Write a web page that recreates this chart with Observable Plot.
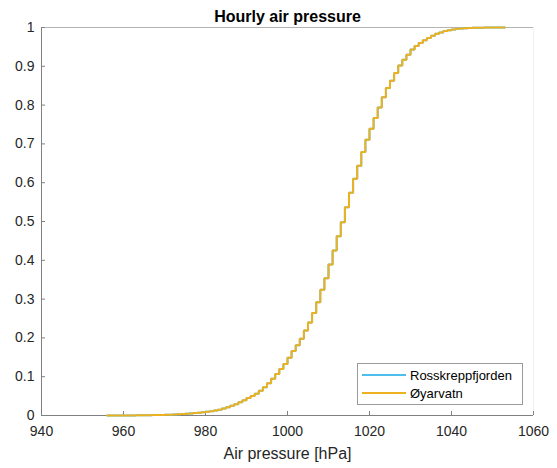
<!DOCTYPE html>
<html>
<head>
<meta charset="utf-8">
<script src="https://cdn.jsdelivr.net/npm/d3@7"></script>
<script src="https://cdn.jsdelivr.net/npm/@observablehq/plot@0.6"></script>
<style>
  html, body { margin: 0; padding: 0; background: #ffffff; }
  #chart { width: 557px; height: 468px; }
</style>
</head>
<body>
<div id="chart"></div>
<script>
// ---- data ----
const chartTitle = "Hourly air pressure";
const xLabel = "Air pressure [hPa]";
const seriesNames = ["Rosskreppfjorden", "Øyarvatn"];
const seriesColors = ["#4DBEEE", "#EDB120"];

const xTicks = [940, 960, 980, 1000, 1020, 1040, 1060];
const yTicks = [0, 0.1, 0.2, 0.3, 0.4, 0.5, 0.6, 0.7, 0.8, 0.9, 1];
const yTickLabels = ["0", "0.1", "0.2", "0.3", "0.4", "0.5", "0.6", "0.7", "0.8", "0.9", "1"];

// pressure (hPa) at each step of the empirical CDF
const pressure = [
  956, 957, 958, 959, 960, 961, 962, 963, 964, 965,
  966, 967, 968, 969, 970, 971, 972, 973, 974, 975,
  976, 977, 978, 979, 980, 981, 982, 983, 984, 985,
  986, 987, 988, 989, 990, 991, 992, 993, 994, 995,
  996, 997, 998, 999, 1000, 1001, 1002, 1003, 1004, 1005,
  1006, 1007, 1008, 1009, 1010, 1011, 1012, 1013, 1014, 1015,
  1016, 1017, 1018, 1019, 1020, 1021, 1022, 1023, 1024, 1025,
  1026, 1027, 1028, 1029, 1030, 1031, 1032, 1033, 1034, 1035,
  1036, 1037, 1038, 1039, 1040, 1041, 1042, 1043, 1044, 1045,
  1046, 1047, 1048, 1049, 1050, 1051, 1052, 1053
];

// cumulative fraction, Rosskreppfjorden (hidden beneath Øyarvatn in the picture)
const cdfRosskreppfjorden = [
  0, 0.0001, 0.0001, 0.0002, 0.0002, 0.0003, 0.0003, 0.0004, 0.0005, 0.0006,
  0.0008, 0.0010, 0.0012, 0.0015, 0.0018, 0.0022, 0.0027, 0.0032, 0.0038, 0.0045,
  0.0053, 0.0062, 0.0072, 0.0083, 0.0095, 0.011, 0.013, 0.015, 0.018, 0.021,
  0.025, 0.029, 0.034, 0.039, 0.045, 0.050, 0.056, 0.064, 0.073, 0.083,
  0.095, 0.107, 0.120, 0.133, 0.149, 0.166, 0.181, 0.198, 0.219, 0.240,
  0.264, 0.292, 0.324, 0.354, 0.389, 0.425, 0.462, 0.498, 0.537, 0.574,
  0.610, 0.644, 0.679, 0.711, 0.739, 0.767, 0.794, 0.820, 0.844, 0.863,
  0.883, 0.902, 0.917, 0.930, 0.943, 0.952, 0.960, 0.967, 0.973, 0.979,
  0.984, 0.987, 0.991, 0.993, 0.995, 0.9965, 0.9975, 0.9982, 0.9987, 0.9991,
  0.9994, 0.9996, 0.9997, 0.9998, 0.9999, 0.9999, 1.0, 1.0
];

// cumulative fraction, Øyarvatn
const cdfOyarvatn = [
  0, 0.0001, 0.0001, 0.0002, 0.0002, 0.0003, 0.0003, 0.0004, 0.0005, 0.0006,
  0.0008, 0.0010, 0.0012, 0.0015, 0.0018, 0.0022, 0.0027, 0.0032, 0.0038, 0.0045,
  0.0053, 0.0062, 0.0072, 0.0083, 0.0095, 0.011, 0.013, 0.015, 0.018, 0.021,
  0.025, 0.029, 0.034, 0.039, 0.045, 0.050, 0.056, 0.064, 0.073, 0.083,
  0.095, 0.107, 0.120, 0.133, 0.149, 0.166, 0.181, 0.198, 0.219, 0.240,
  0.264, 0.292, 0.324, 0.354, 0.389, 0.425, 0.462, 0.498, 0.537, 0.574,
  0.610, 0.644, 0.679, 0.711, 0.739, 0.767, 0.794, 0.820, 0.844, 0.863,
  0.883, 0.902, 0.917, 0.930, 0.943, 0.952, 0.960, 0.967, 0.973, 0.979,
  0.984, 0.987, 0.991, 0.993, 0.995, 0.9965, 0.9975, 0.9982, 0.9987, 0.9991,
  0.9994, 0.9996, 0.9997, 0.9998, 0.9999, 0.9999, 1.0, 1.0
];

// ---- build tidy rows ----
const rows = [];
[cdfRosskreppfjorden, cdfOyarvatn].forEach((vals, s) => {
  pressure.forEach((p, i) => rows.push({series: seriesNames[s], pressure: p, cdf: vals[i]}));
});

// ---- layout / style ----
const W = 557, H = 468;
const mL = 41, mR = 24, mT = 27, mB = 53;
const frameH = H - mT - mB, frameW = W - mL - mR;
const axisColor = "#808080";
const textColor = "#262626";
const font = "'Liberation Sans', Arial, Helvetica, sans-serif";

const plot = Plot.plot({
  width: W,
  height: H,
  marginLeft: mL,
  marginRight: mR,
  marginTop: mT,
  marginBottom: mB,
  style: {fontFamily: font, fontSize: "14px", color: textColor, background: "#ffffff", overflow: "visible"},
  x: {domain: [940, 1060]},
  y: {domain: [0, 1]},
  color: {domain: seriesNames, range: seriesColors},
  marks: [
    // axes box lines
    Plot.ruleY([1], {stroke: "#b4b4b4", strokeWidth: 1}),
    Plot.ruleX([1060], {stroke: "#f0f0f0", strokeWidth: 1}),
    Plot.ruleY([0], {stroke: axisColor, strokeWidth: 1}),
    Plot.ruleX([940], {stroke: axisColor, strokeWidth: 1}),
    // inward ticks
    Plot.tickX(xTicks, {x: d => d, stroke: axisColor, insetTop: frameH - 4}),
    Plot.tickY(yTicks, {y: d => d, stroke: axisColor, insetRight: frameW - 4}),
    // tick labels
    Plot.axisX({ticks: xTicks, tickSize: 0, tickPadding: 11, label: null, fontSize: 14, tickFormat: d => String(d), fill: textColor}),
    Plot.axisY({ticks: yTicks, tickSize: 0, tickPadding: 7, label: null, fontSize: 14, tickFormat: (d, i) => yTickLabels[i], fill: textColor}),
    // CDF stairs
    Plot.line(rows, {
      x: "pressure", y: "cdf", z: "series", stroke: "series",
      curve: "step-after", strokeWidth: 2, strokeLinejoin: "miter"
    }),
    // title and x label
    Plot.text([chartTitle], {frameAnchor: "top", dy: -11, fontSize: 16, fontWeight: "bold", fill: "#000000", lineAnchor: "middle"}),
    Plot.text([xLabel], {frameAnchor: "bottom", dy: 38, fontSize: 16, fill: textColor, lineAnchor: "middle"})
  ]
});

document.getElementById("chart").appendChild(plot);

// ---- legend (MATLAB style, inside the axes, lower right) ----
const svg = d3.select(plot);
const lg = svg.append("g").attr("font-family", font).attr("font-size", 13).attr("text-anchor", "start");
lg.append("rect")
  .attr("x", 357.5).attr("y", 363.5).attr("width", 165).attr("height", 41)
  .attr("fill", "#ffffff").attr("stroke", "#9a9a9a").attr("stroke-width", 1);
seriesNames.forEach((name, i) => {
  const yy = 375 + i * 18;
  lg.append("line")
    .attr("x1", 362).attr("x2", 406).attr("y1", yy).attr("y2", yy)
    .attr("stroke", seriesColors[i]).attr("stroke-width", 2);
  lg.append("text")
    .attr("x", 410).attr("y", yy).attr("dy", "0.35em")
    .attr("text-anchor", "start")
    .attr("fill", "#000000").text(name);
});
</script>
</body>
</html>
